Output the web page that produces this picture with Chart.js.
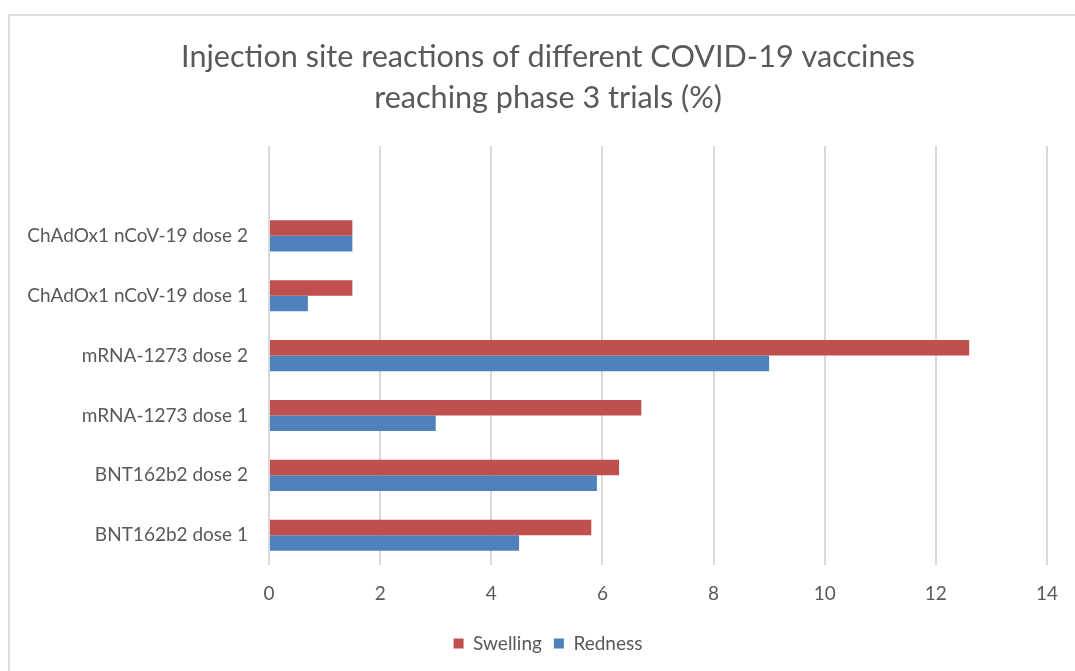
<!DOCTYPE html>
<html>
<head>
<meta charset="utf-8">
<script src="https://cdn.jsdelivr.net/npm/chart.js@4"></script>
<style>
  body { margin: 0; background: #fff; }
  #wrap { position: relative; width: 1075px; height: 671px; overflow: hidden; }
  #frame { position: absolute; left: 8px; top: 14px; width: 1200px; height: 800px; border: 2px solid #dedede; }
  canvas { position: absolute; left: 0; top: 0; }
</style>
</head>
<body>
<div id="wrap">
  <div id="frame"></div>
  <canvas id="bar-chart" width="1075" height="671"></canvas>
</div>
<script>
// categorias de arriba hacia abajo
const categories = ['ChAdOx1 nCoV-19 dose 2', 'ChAdOx1 nCoV-19 dose 1', 'mRNA-1273 dose 2', 'mRNA-1273 dose 1', 'BNT162b2 dose 2', 'BNT162b2 dose 1'];
const swelling = [1.5, 1.5, 12.6, 6.7, 6.3, 5.8];
const redness = [1.5, 0.7, 9.0, 3.0, 5.9, 4.5];
const xTicks = [0, 2, 4, 6, 8, 10, 12, 14];

const grey = '#595959';
const font = 'Lato, Carlito, Calibri, sans-serif';

// corre título y leyenda un poco a la derecha (centrados en el marco, no en el canvas)
const shiftBlocks = {
    id: 'shiftBlocks',
    afterLayout(chart) {
        [chart.titleBlock, chart.legend].forEach(b => {
            if (b) { b.left += 18; b.right += 18; }
        });
    }
};

document.addEventListener('DOMContentLoaded', () => {
    new Chart(document.getElementById('bar-chart'), {
        type: 'bar',
        data: {
            // fila vacía arriba, como en el original
            labels: [''].concat(categories),
            datasets: [{
                label: 'Swelling',
                data: [null].concat(swelling),
                backgroundColor: '#C0504D',
                categoryPercentage: 0.52,
                barPercentage: 1.0
            }, {
                label: 'Redness',
                data: [null].concat(redness),
                backgroundColor: '#4F81BD',
                categoryPercentage: 0.52,
                barPercentage: 1.0
            }]
        },
        options: {
            indexAxis: 'y',
            responsive: false,
            animation: false,
            layout: { padding: { left: 10, right: 25, top: 0, bottom: 8 } },
            plugins: {
                title: {
                    display: true,
                    text: ['Injection site reactions of different COVID-19 vaccines', 'reaching phase 3 trials (%)'],
                    color: grey,
                    font: { family: font, size: 30.6, weight: 'normal', lineHeight: 1.34 },
                    padding: { top: 37, bottom: 27 }
                },
                legend: {
                    position: 'bottom',
                    labels: {
                        color: grey,
                        font: { family: font, size: 19 },
                        boxWidth: 10,
                        boxHeight: 10,
                        padding: 12
                    }
                },
                tooltip: { enabled: false }
            },
            scales: {
                x: {
                    min: 0,
                    max: 14,
                    afterBuildTicks: (axis) => { axis.ticks = xTicks.map(v => ({ value: v })); },
                    grid: { color: '#d9d9d9', lineWidth: 2, drawTicks: false },
                    border: { display: false },
                    ticks: { color: grey, font: { family: font, size: 19 }, padding: 17 }
                },
                y: {
                    grid: { display: false },
                    border: { display: false },
                    afterFit: (axis) => { axis.width = 259; },
                    ticks: { color: grey, font: { family: font, size: 19 }, padding: 13 }
                }
            }
        },
        plugins: [shiftBlocks]
    });
});
</script>
</body>
</html>
